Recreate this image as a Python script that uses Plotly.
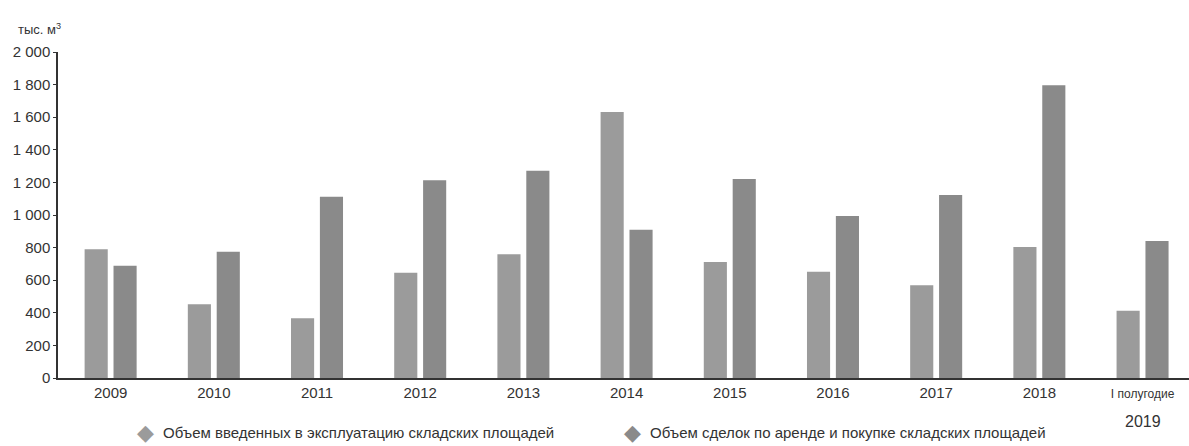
import plotly.graph_objects as go

# Warehouse market volumes, thousand m²
categories = ["2009", "2010", "2011", "2012", "2013", "2014", "2015",
              "2016", "2017", "2018", "I полугодие 2019"]
tick_labels = ["2009", "2010", "2011", "2012", "2013", "2014", "2015",
               "2016", "2017", "2018",
               "<span style='font-size:12px'>I полугодие</span>"]
half_year_label = "2019"
commissioned = [790, 452, 366, 646, 759, 1632, 712, 652, 569, 804, 413]
transactions = [689, 775, 1112, 1213, 1272, 910, 1221, 994, 1123, 1796, 840]

series_names = ["Объем введенных в эксплуатацию складских площадей",
                "Объем сделок по аренде и покупке складских площадей"]
y_ticks = [0, 200, 400, 600, 800, 1000, 1200, 1400, 1600, 1800, 2000]
y_tick_labels = ["0", "200", "400", "600", "800", "1 000", "1 200",
                 "1 400", "1 600", "1 800", "2 000"]

FONT = "Liberation Sans Narrow, Arial Narrow, Liberation Sans, sans-serif"
LIGHT = "#9b9b9b"
DARK = "#8a8a8a"
TEXT = "#333333"

fig = go.Figure()
fig.add_bar(x=categories, y=commissioned, marker_color=LIGHT,
            marker_line_width=0, name=series_names[0])
fig.add_bar(x=categories, y=transactions, marker_color=DARK,
            marker_line_width=0, name=series_names[1])

fig.update_layout(
    width=1189, height=446,
    margin=dict(l=58, r=0, t=52, b=68),
    paper_bgcolor="white", plot_bgcolor="white",
    barmode="group", bargap=0.44, bargroupgap=0.2,
    font=dict(family=FONT, size=15, color=TEXT),
    showlegend=False,
)
fig.update_xaxes(
    type="category", categoryorder="array", categoryarray=categories,
    tickvals=categories, ticktext=tick_labels,
    range=[-0.51, 10.45],
    showline=True, linecolor="#333333", linewidth=2,
    ticks="", showgrid=False, zeroline=False,
    tickfont=dict(size=15, color=TEXT),
)
fig.update_yaxes(
    range=[0, 2000], tickvals=y_ticks, ticktext=y_tick_labels,
    showline=True, linecolor="#333333", linewidth=1.5,
    ticks="outside", ticklen=3, tickcolor="#333333", tickwidth=1,
    showgrid=False, zeroline=False,
    tickfont=dict(size=15, color=TEXT),
)
# second line of the last category label
fig.add_annotation(
    text=half_year_label, xref="x", yref="paper",
    x=categories[-1], y=-0.1, xanchor="center", yanchor="top",
    showarrow=False, font=dict(size=16, color=TEXT),
)
# unit label above the value axis
fig.add_annotation(
    text="тыс. м<sup>3</sup>", xref="paper", yref="paper",
    x=-0.037, y=1.04, xanchor="left", yanchor="bottom",
    showarrow=False, font=dict(size=13, color=TEXT),
)

# legend row: diamond swatch followed by the series name
legend_x = [0.077, 0.508]
for name, color, lx in zip(series_names, [LIGHT, DARK], legend_x):
    fig.add_annotation(
        text="◆", xref="paper", yref="paper", x=lx, y=-0.168,
        xanchor="center", yanchor="middle", showarrow=False,
        font=dict(family="DejaVu Sans", size=22, color=color),
    )
    fig.add_annotation(
        text=name, xref="paper", yref="paper", x=lx + 0.014, y=-0.168,
        xanchor="left", yanchor="middle", showarrow=False,
        font=dict(size=15, color=TEXT),
    )

fig.write_html("out.html")
